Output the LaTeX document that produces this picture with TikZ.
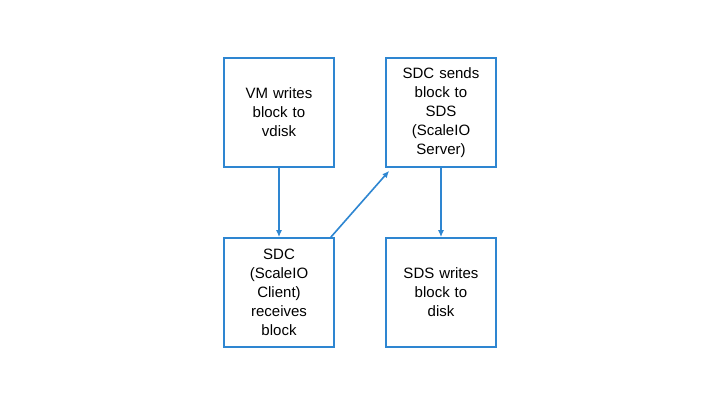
\documentclass[tikz,border=0pt]{standalone}
\usepackage{fontspec}
\setmainfont{Liberation Sans}
\usetikzlibrary{arrows.meta}
\definecolor{bx}{HTML}{2E86D1}
\begin{document}
\begin{tikzpicture}[x=1pt,y=1pt,
  box/.style={draw=bx,line width=1.6pt,minimum width=110pt,minimum height=109pt,align=center,text width=100pt,font=\fontsize{15}{19}\selectfont,inner sep=0pt},
  arr/.style={draw=bx,line width=1.6pt,-{Latex[length=7pt,width=6pt]}}]
\useasboundingbox (0,0) rectangle (720,405);
\node[box] (a) at (279,292.5) {VM writes\\block to\\vdisk};
\node[box] (b) at (441,292.5) {SDC sends\\block to\\SDS\\(ScaleIO\\Server)};
\node[box] (c) at (279,112.5) {SDC\\(ScaleIO\\Client)\\receives\\block};
\node[box] (d) at (441,112.5) {SDS writes\\block to\\disk};
\draw[arr] (a.south) -- (c.north);
\draw[arr] (c.north east) ++(-4,0) coordinate (s) (s) -- ([xshift=4pt,yshift=-3pt]b.south west);
\draw[arr] (b.south) -- (d.north);
\end{tikzpicture}
\end{document}
